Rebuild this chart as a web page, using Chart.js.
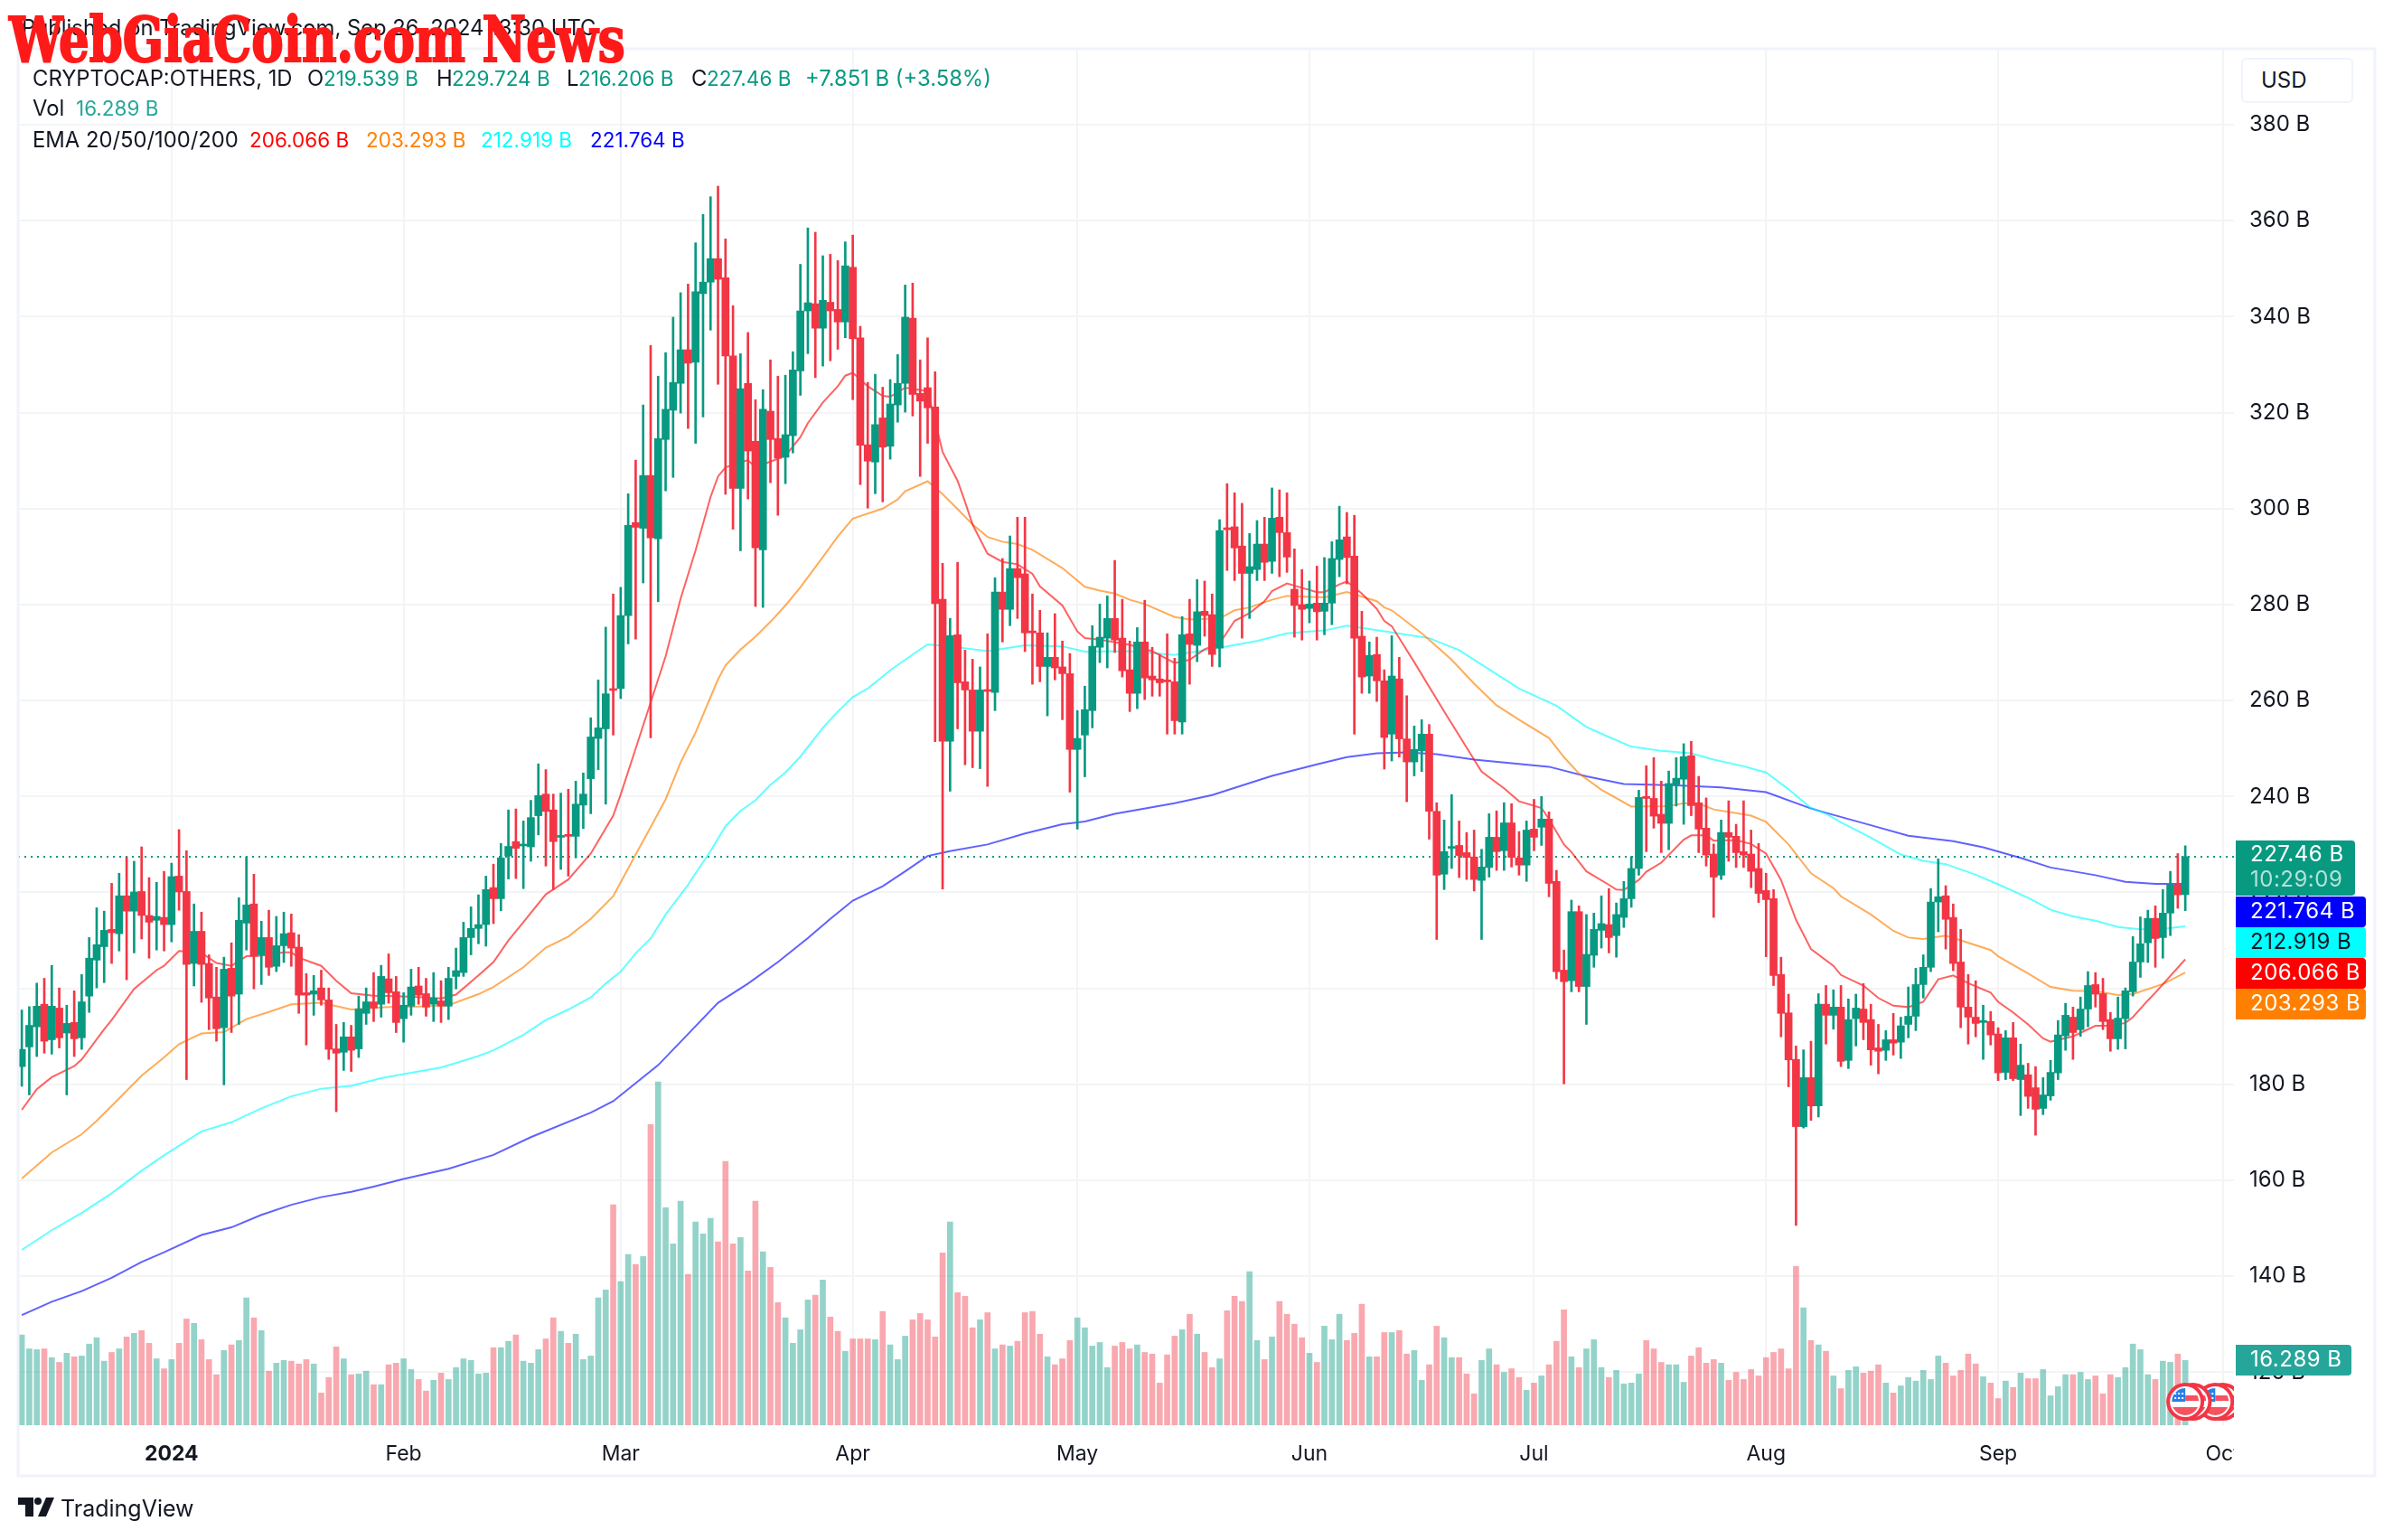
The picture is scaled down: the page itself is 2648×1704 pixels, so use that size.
<!DOCTYPE html>
<html lang="en">
<head>
  <meta charset="UTF-8">
  <title>CRYPTOCAP:OTHERS, 1D</title>
  <script src="https://cdn.jsdelivr.net/npm/chart.js"></script>
  <style>
    html, body { margin: 0; padding: 0; background: #fff; }
    body { width: 2648px; height: 1704px; position: relative; overflow: hidden; font-family: Inter, Roboto, sans-serif; }
    canvas { position: absolute; left: 0; top: 0; }
    .hd { position: absolute; font-size: 22.5px; line-height: 28px; white-space: nowrap; color: #131722; }
    .hd.big { font-size: 23.8px; }
    #mark {
      position: absolute; left: 10px; top: 2px; white-space: nowrap; color: #ff1a1a;
      font: bold 70px/84px "DejaVu Serif", serif; font-stretch: condensed;
      transform-origin: left top; -webkit-text-stroke: 2px #ff1a1a;
    }
    #usd {
      position: absolute; left: 2480px; top: 64px; width: 100px; height: 46px; line-height: 46px;
      padding-left: 20px; font-size: 24px; color: #131722; background: #fff;
      border: 2px solid #f0f3fa; border-radius: 6px;
    }
    #tvlogo { position: absolute; left: 20px; top: 1657px; }
    #tvname { position: absolute; left: 67px; top: 1652px; font-size: 25px; line-height: 34px; color: #131722; }
  </style>
</head>
<body>
  <canvas id="chart" width="2648" height="1704"></canvas>
  <div id="usd">USD</div>
  <svg id="tvlogo" width="40" height="21" viewBox="0 0 40 21"><path fill="#131722" d="M0 0h17v21H8V8H0z"/><circle fill="#131722" cx="22" cy="4" r="4"/><path fill="#131722" d="M31 0h9l-9 21h-9z"/></svg>
  <div id="tvname">TradingView</div>

  <script>
    // --- daily candles, in billions, first day is 2023-12-12 ---
    const opens = [
      183.7,187.8,192.0,196.7,189.3,195.9,190.7,192.9,189.7,198.4,
      205.9,208.7,212.3,211.4,219.3,216.1,220.2,215.2,214.2,214.8,
      213.3,223.4,220.2,205.2,211.9,205.2,198.2,191.8,204.2,198.8,
      213.6,217.6,207.0,210.6,204.6,208.9,211.6,208.6,199.1,198.8,
      200.1,197.6,187.4,186.7,189.9,187.4,194.8,197.2,196.7,202.0,
      199.3,193.7,196.3,200.5,198.9,196.7,197.4,196.3,202.5,203.3,
      210.6,212.5,213.3,221.0,218.7,227.6,230.6,229.7,229.5,236.0,
      240.5,237.2,231.5,232.1,231.7,238.2,243.7,252.1,254.1,262.4,
      262.5,277.7,297.1,295.9,306.9,293.7,314.4,320.5,326.1,333.1,
      330.5,344.8,347.2,352.1,348.1,331.8,304.2,326.1,314.0,291.4,
      320.3,314.6,310.7,315.2,328.7,341.2,342.7,337.6,343.0,341.5,
      338.9,350.3,335.6,313.3,309.7,318.9,313.0,321.6,326.1,339.7,
      324.0,325.2,321.2,281.1,251.5,273.7,263.9,262.2,253.6,262.2,
      261.7,282.6,279.0,287.5,286.4,274.5,274.1,267.1,269.0,267.0,
      265.6,249.8,252.8,257.9,271.1,273.0,277.1,273.0,266.4,261.5,
      272.2,265.1,264.5,264.3,263.9,255.5,273.9,271.5,278.6,277.9,
      270.9,296.0,296.2,292.2,286.5,287.3,292.6,289.0,298.2,295.0,
      283.2,280.0,279.2,280.3,278.6,280.3,289.4,294.1,290.1,273.4,
      265.1,269.6,264.1,253.0,264.5,252.0,247.2,249.5,253.0,236.9,
      223.8,229.2,229.8,228.3,227.4,222.5,225.2,231.5,228.7,234.5,
      227.2,225.7,233.2,233.6,235.3,222.3,203.8,201.6,216.0,200.4,
      206.9,212.1,213.3,211.0,214.8,218.7,225.0,240.0,239.6,236.3,
      234.4,242.5,243.6,248.5,238.7,233.4,228.0,223.6,232.5,231.7,
      228.5,228.0,225.0,220.4,218.7,202.9,194.9,185.2,171.2,181.4,
      175.5,196.7,194.4,196.1,185.0,193.7,195.7,193.5,187.6,187.1,
      189.3,188.8,192.5,194.2,200.8,204.4,218.0,219.3,214.8,205.5,
      196.1,194.0,192.9,193.1,190.5,182.5,189.7,181.0,182.0,179.3,
      175.0,177.6,182.4,190.1,194.0,191.4,195.7,200.8,198.9,193.5,
      189.5,193.7,199.3,205.5,209.5,214.6,210.6,215.7,221.6,219.539
    ];
    const closes = [
      187.3,192.3,196.3,189.0,196.3,189.7,192.7,189.5,197.2,206.3,
      209.1,212.1,211.6,219.3,216.1,220.1,215.2,213.8,215.0,213.3,
      223.3,220.1,205.0,211.9,205.0,198.0,191.6,204.0,198.4,214.2,
      217.4,206.7,210.6,204.4,208.9,211.4,208.4,198.6,198.6,199.5,
      197.6,187.3,186.5,189.9,187.1,195.7,197.2,195.9,202.5,199.1,
      192.9,196.5,200.3,198.6,196.1,198.0,196.3,202.1,203.7,210.6,
      212.5,213.3,220.6,218.7,227.2,229.6,229.2,229.9,235.6,240.2,
      236.9,230.6,231.8,231.7,238.4,240.5,252.4,254.3,261.4,262.1,
      277.7,296.5,296.1,306.9,293.9,314.6,320.7,326.3,333.1,330.3,
      345.2,347.2,352.1,347.8,331.8,304.2,325.0,312.0,291.8,320.7,
      314.4,310.5,315.4,328.9,341.2,342.9,337.6,343.4,341.2,338.9,
      350.6,335.4,313.2,309.9,317.5,312.8,321.8,326.1,339.9,323.8,
      322.4,321.0,280.2,251.5,273.5,263.7,262.2,253.6,262.2,261.9,
      282.6,279.0,287.5,285.6,274.1,274.1,267.1,269.0,266.8,265.6,
      249.8,252.1,258.1,271.3,273.2,277.1,272.6,266.2,261.5,272.2,
      264.7,264.3,263.7,263.9,255.8,273.7,271.7,278.5,277.7,269.6,
      295.4,295.6,291.8,286.5,287.9,292.6,288.8,298.0,295.0,289.9,
      279.8,279.0,280.1,278.5,280.3,289.6,293.5,289.8,273.0,264.9,
      269.4,264.1,252.3,265.1,252.0,247.2,249.8,253.0,236.9,223.6,
      228.5,229.4,227.7,227.3,222.7,225.3,231.5,228.5,234.5,227.3,
      225.7,233.0,231.5,235.3,221.9,203.5,201.4,216.0,200.4,207.1,
      212.3,213.5,210.6,215.4,218.7,225.0,239.8,239.6,235.9,234.4,
      242.7,243.8,248.3,238.1,233.2,227.8,223.2,232.5,231.5,228.3,
      227.8,224.4,219.8,218.5,202.7,194.8,185.1,171.2,181.4,175.5,
      196.7,194.4,196.1,184.8,193.5,195.9,192.9,187.2,186.9,189.3,
      188.6,192.2,194.2,200.8,204.4,218.0,219.1,214.4,205.2,196.1,
      194.0,192.7,193.3,190.3,182.4,189.7,181.2,184.0,177.5,174.8,
      177.8,182.5,190.3,194.4,190.8,195.7,200.6,198.8,193.1,189.5,
      193.8,199.5,205.5,209.3,214.6,210.4,215.7,221.6,219.5,227.46
    ];
    const highs = [
      195.5,196.2,201.1,202.1,204.8,200.1,196.5,199.5,202.9,210.6,
      216.8,216.1,221.9,224.0,227.4,226.5,229.5,223.1,222.1,224.4,
      226.1,233.1,228.7,217.6,215.9,207.0,204.4,206.5,209.5,218.9,
      227.4,223.8,214.0,216.3,215.0,215.9,215.5,211.2,203.1,202.7,
      203.8,200.1,192.5,192.9,192.3,198.4,200.1,203.3,204.8,207.2,
      202.5,199.1,204.0,204.4,202.1,203.3,201.6,204.4,208.4,213.8,
      217.0,219.5,223.4,225.9,230.2,237.2,237.4,234.9,239.2,246.8,
      245.6,240.5,240.7,241.5,243.2,244.9,256.4,264.3,275.3,282.2,
      283.6,303.1,310.1,321.6,334.0,327.6,332.5,339.9,345.0,346.8,
      355.4,361.3,365.0,367.2,356.2,342.3,332.3,336.7,322.7,324.8,
      331.0,327.6,327.8,332.7,350.9,358.5,357.6,352.7,353.0,351.7,
      355.6,357.0,338.0,326.3,328.0,325.3,326.9,332.1,346.6,347.0,
      331.0,335.6,328.5,288.6,277.1,288.8,270.5,268.6,267.0,273.9,
      285.6,289.6,294.3,298.2,298.2,282.2,278.8,274.1,278.1,272.4,
      269.8,257.9,263.0,275.6,280.1,281.8,289.2,281.1,272.4,275.2,
      280.9,271.1,269.6,273.9,268.8,277.5,281.1,285.2,284.9,282.2,
      297.7,305.2,303.3,301.1,294.8,297.5,298.2,304.3,303.9,303.3,
      291.6,287.3,284.9,288.0,289.8,293.1,300.5,299.2,298.6,278.6,
      272.2,273.2,266.4,273.5,269.0,261.0,254.7,256.0,255.0,238.7,
      235.1,240.4,234.9,232.5,233.0,229.0,236.4,237.0,238.7,238.5,
      232.7,234.9,239.4,240.0,236.8,224.6,208.0,218.4,217.2,215.4,
      215.7,219.3,220.8,217.8,222.3,227.5,241.3,246.4,248.1,243.2,
      245.3,248.1,251.0,251.5,244.2,239.7,230.1,235.1,239.1,234.2,
      239.1,233.0,230.2,224.0,220.6,206.5,198.8,188.0,187.2,189.0,
      198.9,200.6,199.7,200.6,197.8,198.8,201.0,196.7,192.5,191.2,
      194.8,194.0,200.3,204.2,207.0,220.8,227.0,221.4,217.6,212.3,
      202.9,201.6,196.5,195.2,191.8,191.2,192.9,188.4,184.4,183.7,
      181.4,185.0,193.3,196.9,196.1,198.2,203.5,203.3,202.1,195.0,
      198.2,200.1,210.8,214.9,216.3,217.2,220.6,224.4,228.1,229.724
    ];
    const lows = [
      179.6,177.8,185.8,186.5,186.3,187.6,177.8,185.8,187.3,195.0,
      200.1,201.2,205.2,207.8,201.8,207.4,210.3,206.3,208.0,207.8,
      209.7,216.3,181.0,200.5,197.1,191.4,189.0,179.9,190.8,192.5,
      208.0,199.9,200.8,202.7,203.5,205.4,204.6,194.8,188.2,194.4,
      196.5,185.2,174.3,182.9,182.7,185.6,192.5,193.1,194.0,196.9,
      190.8,188.8,194.4,196.7,194.2,193.1,192.9,193.5,199.9,202.5,
      207.0,209.3,208.8,213.5,216.2,222.8,222.9,220.8,226.5,232.0,
      225.5,220.6,224.8,223.4,227.2,233.3,236.4,245.6,238.4,252.8,
      260.4,271.8,272.8,284.5,252.2,280.6,303.7,306.5,319.9,316.7,
      313.6,319.1,337.2,325.9,303.0,295.7,291.2,302.0,279.6,279.4,
      305.4,298.6,305.2,311.6,323.6,332.3,327.3,329.7,330.8,333.2,
      335.6,322.7,305.0,300.1,303.1,301.4,310.3,318.0,320.1,319.3,
      306.7,313.6,251.4,220.7,241.1,254.1,246.6,246.0,245.8,242.1,
      257.9,272.2,275.6,277.1,270.2,263.4,263.9,256.8,264.3,256.0,
      240.9,233.2,244.1,254.3,267.9,266.8,270.0,264.9,257.7,258.3,
      260.2,260.9,260.9,253.0,253.0,253.0,263.4,268.1,273.4,267.1,
      267.0,287.1,285.0,273.0,277.1,285.0,285.0,286.5,285.8,286.7,
      273.2,272.6,276.2,272.6,273.7,275.8,285.8,284.3,253.0,261.5,
      261.5,259.8,245.7,247.4,248.2,238.9,244.3,245.2,231.1,210.2,
      220.6,225.0,223.1,222.7,220.3,210.2,223.2,224.6,224.6,225.3,
      223.6,222.3,228.7,229.8,219.1,202.0,180.1,199.3,199.3,192.5,
      204.4,208.4,207.4,206.5,212.7,216.9,223.6,228.5,233.4,228.3,
      228.9,238.0,234.2,236.0,228.3,225.5,214.8,222.7,226.5,225.2,
      225.2,221.0,217.9,206.6,200.6,189.9,179.5,150.6,170.9,172.5,
      173.2,188.4,191.5,183.7,183.3,188.0,189.3,184.0,182.2,185.0,
      186.1,185.4,189.7,191.2,198.0,203.5,211.8,208.2,203.7,191.8,
      188.4,189.9,185.2,188.2,180.8,181.0,180.8,173.5,175.0,169.4,
      173.7,176.7,181.0,187.1,185.2,190.0,192.0,196.1,191.4,186.9,
      187.3,187.4,198.4,202.3,205.4,204.4,206.3,211.0,216.7,216.206
    ];
    const volumes = [
      22.7,19.2,19.0,19.2,17.0,15.8,18.1,17.2,17.4,20.4,
      22.0,16.1,18.3,19.2,22.2,23.1,23.8,20.6,16.7,14.2,
      16.5,20.6,26.7,25.6,21.5,16.5,12.7,18.8,20.2,21.3,
      32.0,27.0,23.8,13.6,15.6,16.3,16.1,15.4,16.5,15.4,
      8.1,12.0,19.7,16.7,12.7,12.9,13.6,10.2,10.2,15.2,
      15.6,16.7,14.0,11.5,8.6,11.3,13.1,11.5,14.5,16.7,
      16.3,12.9,13.1,19.5,19.5,21.1,22.7,16.1,15.6,19.0,
      21.7,27.0,23.6,20.6,22.9,16.5,17.4,32.0,34.0,55.4,
      36.1,42.9,40.4,42.4,75.6,86.3,54.7,45.6,56.3,37.9,
      51.1,48.1,52.0,46.1,66.3,45.6,47.2,38.8,56.3,43.6,
      39.7,30.8,27.0,20.6,24.0,31.5,32.7,36.5,27.2,23.6,
      18.6,21.7,21.7,21.7,21.5,28.6,20.2,16.5,22.4,26.5,
      28.1,26.5,22.2,43.3,51.1,33.3,32.4,24.5,26.5,28.3,
      19.2,20.2,19.9,21.1,28.3,28.6,22.9,17.2,15.2,16.7,
      21.3,27.0,24.5,19.9,20.8,14.5,19.9,20.8,19.2,20.2,
      18.3,17.9,10.6,17.7,22.4,24.0,27.9,22.9,18.3,14.5,
      16.7,28.8,32.4,31.1,38.6,21.3,16.5,22.2,31.1,27.9,
      25.4,22.0,18.1,15.8,24.9,21.5,27.9,21.3,23.1,30.4,
      17.2,17.2,23.3,23.3,23.8,17.9,18.8,11.3,15.2,24.9,
      22.0,17.0,17.0,12.9,7.9,16.3,19.2,15.2,13.3,14.2,
      12.0,8.8,10.6,12.4,15.2,21.1,29.0,17.2,14.5,19.2,
      21.5,14.5,12.0,13.8,10.4,10.6,12.9,21.3,19.2,15.8,
      15.2,15.2,10.8,17.4,19.5,15.6,16.5,15.6,11.3,13.3,
      11.5,14.0,12.4,17.0,18.3,19.2,14.2,39.9,29.5,21.3,
      20.2,18.6,12.4,9.2,13.8,14.7,13.1,13.6,15.2,10.6,
      8.1,9.9,12.0,11.1,13.8,11.5,17.4,15.6,12.4,13.8,
      17.9,15.4,12.2,10.6,6.7,11.1,9.5,13.1,11.7,11.7,
      14.0,7.4,9.7,12.7,12.7,13.3,11.5,12.4,7.9,12.7,
      12.0,14.5,20.4,19.0,12.7,11.5,16.1,15.8,17.9,16.289
    ];

    // --- EMA lines at the listed day numbers ---
    const ema20Days = [0,2,4,7,8,11,12,15,18,19,21,22,24,26,28,30,32,35,36,37,40,42,44,47,50,53,56,58,61,63,65,67,70,73,76,79,80,82,84,86,88,90,92,93,94,97,98,100,102,104,105,107,109,110,111,113,115,116,118,121,123,125,126,127,129,131,133,135,136,139,141,142,144,148,151,154,156,158,160,162,164,166,167,169,171,173,174,176,177,179,181,182,183,186,190,194,195,198,200,203,204,206,207,209,212,213,214,216,217,219,222,223,225,226,229,231,233,235,237,239,242,243,246,248,250,252,254,256,258,260,263,264,266,268,270,271,274,277,279,281,282,284,285,289];
    const ema20Vals = [174.7,179,181.5,183.8,185.2,191.5,193.4,199.9,203.8,204.7,207.8,207.7,207.4,205.3,204.7,206.7,206.8,207.5,207.5,206.4,204.7,201.6,199,198.5,198.4,198.2,197.9,198.7,202.7,205.5,210,213.8,219.6,222.7,228.1,236,240.4,250,259.6,269.2,281.2,291.3,302.4,306.7,308.6,310.1,308.6,309.8,311,314.9,317.8,322.1,325.5,327.7,328.3,325.5,323.5,323.3,325.2,324.5,311.8,305.8,301.4,296.7,290.6,288.9,288.4,286.4,283.8,279.8,274.4,273,272.7,271.6,270.3,267.8,268.5,270.7,271.9,276.6,278.2,280.7,282.8,284.4,283.5,282.6,282.6,284.2,284.8,282.3,279.1,276.6,275.5,268,257.7,247.7,245.2,241.7,239,237.6,235.3,230,228.4,224.4,221.6,220.6,220.5,222.6,224.3,226.2,231,231.9,231.9,230.8,230.9,230.1,228.1,222.6,214.3,208.2,204.7,202.8,200.6,198,196.4,196.1,197.2,201.9,202.7,201.1,199.1,197.2,195,192.5,189.6,188.9,190,192.2,192.2,192.8,194,197.5,199.1,206.066];
    const ema50Days = [0,4,8,10,12,16,19,21,24,27,30,33,36,40,44,49,53,57,61,63,67,70,73,76,79,82,84,86,88,90,93,94,96,98,100,102,104,107,109,111,115,117,118,121,123,125,127,129,131,133,135,139,142,144,146,148,150,154,156,160,162,164,167,169,174,177,181,182,183,187,191,194,197,200,204,206,208,211,215,220,222,224,226,231,233,236,239,242,243,247,250,252,254,257,259,263,264,268,271,274,277,280,282,286,289];
    const ema50Vals = [160.4,165.8,169.6,172.4,175.5,181.8,185.6,188.4,190.6,190.9,193.6,195.1,196.7,197,195.6,196.1,196.2,196.5,198.8,200.3,204.4,208.5,210.8,214.5,219.2,227.9,233.6,239.4,247.1,253.3,264.4,267.3,270.6,273.3,276.4,279.8,283.6,289.9,294.2,297.9,300,301.9,303.6,305.7,303,299.9,296.7,294.1,293.1,292.6,291.4,287.6,283.7,282.9,282.3,281,280.1,277.4,276.9,277.1,278.8,279.4,281,281.8,281.5,282.6,280.7,279.4,278.8,274,268.5,263.5,259,256,252.2,248.2,244.8,241.4,237.9,238,238.6,238.5,237.3,236,234.7,230,224,220.9,219.2,215.4,212,210.6,210.3,211,210,208,206.7,203.1,200.3,199.5,199.4,198.6,198.8,200.9,203.293];
    const ema100Days = [0,4,8,12,16,19,24,28,32,36,40,44,48,53,56,61,63,67,70,73,76,78,80,82,84,86,89,90,92,94,96,98,100,102,104,107,109,111,113,116,118,121,124,129,134,139,142,148,154,160,165,169,174,177,180,183,188,192,196,200,205,209,212,215,219,223,226,230,233,236,239,241,243,247,251,254,257,261,264,268,271,274,277,280,283,286,289];
    const ema100Vals = [145.5,149.6,153.2,157.3,162,165.2,170.2,172.1,175,177.5,179.1,179.7,181.3,182.7,183.5,185.9,187.1,190.3,193.4,195.6,198.1,201,203.5,207.3,210.4,215.4,221.6,224,228.6,233.8,237,239.2,242.4,245,248.3,254.3,257.7,260.7,262.5,266.3,268.5,271.7,271.3,270.3,271.5,271.3,270.2,270.3,269.5,271,272.4,274,274.6,275.6,274.9,274.2,273,270.5,266.5,262.5,258.9,254.5,252.4,250.4,249.5,249,247.7,246.3,245,241.5,237.6,236.4,234.6,231.4,227.9,226.6,225.9,223.7,221.7,218.9,216.4,215,214.1,212.8,212.3,212.4,212.919];
    const ema200Days = [0,4,8,12,16,19,24,28,32,36,40,44,47,51,57,63,68,76,79,85,89,93,97,101,105,108,111,115,118,121,124,129,134,139,142,146,154,159,167,173,177,181,185,189,194,204,209,214,221,227,233,239,241,247,252,258,262,267,271,277,281,285,289];
    const ema200Vals = [131.9,134.7,136.9,139.7,143,145,148.6,150.2,152.8,154.9,156.5,157.6,158.7,160.3,162.4,165.3,169,174.1,176.5,184,190.5,197,201,205.5,210.5,214.5,218.3,221.3,224.4,227.6,228.6,230,232.3,234.2,234.8,236.4,238.6,240.3,244.3,246.7,248.2,249,249.2,248.8,247.7,246.2,244.2,242.6,242.3,241.9,240.9,237.5,236.6,234,231.8,230.7,229.4,227.2,225.2,223.6,222.2,221.8,221.764];

    const monthDays = [20,51,80,111,141,172,202,233,264,294];
    const monthLabels = ['2024','Feb','Mar','Apr','May','Jun','Jul','Aug','Sep','Oct'];
    const priceTicks = [120,140,160,180,200,220,240,260,280,300,320,340,360,380];
    const lastClose = 227.46;
    const lastVolume = 16.289;
    const emaLast = [206.066, 203.293, 212.919, 221.764];
    const eventDays = [294, 293, 290, 289];   // back to front

    const UP = '#089981', DOWN = '#F23645';
    const days = Array.from({length: 296}, (_, i) => i);   // some empty days on the right

    function sparse(dayList, vals) {
      const out = days.map(() => null);
      dayList.forEach((d, i) => { out[d] = vals[i]; });
      return out;
    }
    function hexA(hex, a) {
      const n = parseInt(hex.slice(1), 16);
      return `rgba(${n >> 16},${(n >> 8) & 255},${n & 255},${a})`;
    }
    const candleColors = closes.map((c, i) => c >= opens[i] ? UP : DOWN);
    const FONT = '24px Inter, Roboto, sans-serif';

    function emaDataset(label, dayList, vals, color) {
      return { type: 'line', label, data: sparse(dayList, vals), yAxisID: 'y', order: 3,
        borderColor: color, borderWidth: 2, pointRadius: 0, spanGaps: true, tension: 0 };
    }

    // --- everything on top of the plot: price tags, dotted last price, event flags, frame ---
    function tag(ctx, x, y, w, h, color, lines) {
      ctx.fillStyle = color;
      ctx.beginPath();
      ctx.roundRect(x, y, w, h, [0, 4, 4, 0]);
      ctx.fill();
      ctx.textAlign = 'left';
      ctx.textBaseline = 'middle';
      ctx.font = FONT;
      ctx.letterSpacing = '0.5px';
      lines.forEach(l => {
        ctx.fillStyle = l.color;
        ctx.fillText(l.text, x + 16, l.y);
      });
    }
    function flag(ctx, cx, cy) {
      ctx.save();
      ctx.beginPath(); ctx.arc(cx, cy, 21, 0, 7); ctx.fillStyle = '#F23645'; ctx.fill();
      ctx.beginPath(); ctx.arc(cx, cy, 17, 0, 7); ctx.fillStyle = '#fff'; ctx.fill();
      ctx.beginPath(); ctx.arc(cx, cy, 15, 0, 7); ctx.clip();
      ctx.fillStyle = '#F7525F';
      ctx.fillRect(cx, cy - 7, 15, 6);
      ctx.fillRect(cx - 15, cy + 6, 30, 10);
      ctx.fillStyle = '#2a7fe8';
      ctx.fillRect(cx - 15, cy - 15, 15, 15);
      ctx.fillStyle = '#fff';
      for (let i = 0; i < 3; i++) for (let j = 0; j < 2; j++) ctx.fillRect(cx - 12 + i * 4, cy - 10 + j * 5, 2, 2);
      ctx.restore();
    }
    const overlay = {
      id: 'overlay',
      beforeDatasetsDraw(chart) {
        const { ctx, chartArea: a, scales: { y } } = chart;
        ctx.save();
        ctx.strokeStyle = UP;
        ctx.lineWidth = 2;
        ctx.setLineDash([2, 5]);
        ctx.beginPath();
        ctx.moveTo(a.left, Math.round(y.getPixelForValue(lastClose)));
        ctx.lineTo(a.right, Math.round(y.getPixelForValue(lastClose)));
        ctx.stroke();
        ctx.restore();
      },
      afterDatasetsDraw(chart) {
        const { ctx, chartArea: a, scales: { x } } = chart;
        ctx.save();
        ctx.beginPath(); ctx.rect(a.left, a.top, a.right - a.left, a.bottom - a.top); ctx.clip();
        eventDays.forEach(d => flag(ctx, x.getPixelForValue(d), a.bottom - 26));
        ctx.restore();
      },
      afterDraw(chart) {
        const { ctx } = chart;
        ctx.save();
        // the time axis stops at the price axis, the Oct label gets cut there
        ctx.fillStyle = '#fff';
        ctx.fillRect(2472, 1578, 150, 52);
        ctx.strokeStyle = '#f0f3fa';
        ctx.lineWidth = 3;
        ctx.strokeRect(20, 54, 2608, 1579);
        const w = 'rgba(255,255,255,1)';
        tag(ctx, 2474, 930, 132, 61, UP, [
          { text: lastClose.toFixed(2) + ' B', color: w, y: 946 },
          { text: '10:29:09', color: 'rgba(255,255,255,.7)', y: 974 }
        ]);
        tag(ctx, 2474, 992, 144, 34, '#0000ff', [{ text: emaLast[3].toFixed(3) + ' B', color: w, y: 1009 }]);
        tag(ctx, 2474, 1026, 144, 34, '#00ffff', [{ text: emaLast[2].toFixed(3) + ' B', color: '#131722', y: 1043 }]);
        tag(ctx, 2474, 1060, 144, 34, '#ff0000', [{ text: emaLast[0].toFixed(3) + ' B', color: w, y: 1077 }]);
        tag(ctx, 2474, 1094, 144, 34, '#ff8000', [{ text: emaLast[1].toFixed(3) + ' B', color: w, y: 1111 }]);
        tag(ctx, 2474, 1488, 128, 34, '#26a69a', [{ text: lastVolume.toFixed(3) + ' B', color: w, y: 1505 }]);
        ctx.restore();
      }
    };

    new Chart(document.getElementById('chart'), {
      data: {
        labels: days,
        datasets: [
          { type: 'bar', label: 'Vol', data: volumes, yAxisID: 'y2', order: 4, grouped: false, barThickness: 6,
            backgroundColor: candleColors.map(c => hexA(c, 0.43)) },
          emaDataset('EMA 20', ema20Days, ema20Vals, 'rgba(255,0,0,.62)'),
          emaDataset('EMA 50', ema50Days, ema50Vals, 'rgba(255,128,0,.65)'),
          emaDataset('EMA 100', ema100Days, ema100Vals, 'rgba(0,255,255,.62)'),
          emaDataset('EMA 200', ema200Days, ema200Vals, 'rgba(0,0,255,.62)'),
          { type: 'bar', label: 'Wick', data: lows.map((l, i) => [l, highs[i]]), yAxisID: 'y', order: 2, grouped: false,
            barThickness: 2, backgroundColor: candleColors },
          { type: 'bar', label: 'Body', data: opens.map((o, i) => [o, closes[i]]), yAxisID: 'y', order: 1, grouped: false,
            barThickness: 8, minBarLength: 2, backgroundColor: candleColors }
        ]
      },
      options: {
        responsive: false,
        animation: false,
        layout: { padding: { left: 20, top: 55, right: 0, bottom: 0 } },
        plugins: { legend: { display: false }, tooltip: { enabled: false } },
        scales: {
          x: {
            offset: true,
            grid: { offset: false, color: '#f3f4f6', lineWidth: 2, drawTicks: false },
            border: { display: false },
            afterBuildTicks: s => { s.ticks = monthDays.map(d => ({ value: d })); },
            afterFit: s => { s.height = 1704 - 1577; },
            ticks: {
              autoSkip: false, maxRotation: 0, padding: 18, color: '#131722',
              font: c => ({ family: 'Inter, Roboto, sans-serif', size: 23, weight: c.index === 0 ? 'bold' : 'normal' }),
              callback: v => monthLabels[monthDays.indexOf(v)]
            }
          },
          y: {
            position: 'right',
            min: 108.96,
            max: 395.64,
            grid: { color: '#f3f4f6', lineWidth: 2, drawTicks: false },
            border: { display: false },
            afterBuildTicks: s => { s.ticks = priceTicks.map(v => ({ value: v })); },
            afterFit: s => { s.width = 2648 - 2472; },
            ticks: { padding: 17, color: '#131722', font: { family: 'Inter, Roboto, sans-serif', size: 24 }, callback: v => v + ' B' }
          },
          y2: { display: false, min: 0, max: 345.8 }
        }
      },
      plugins: [overlay]
    });

    // --- header texts: text, left, top, colour, larger font for the dark labels ---
    const headerTexts = [
      ['Published on TradingView.com, Sep 26, 2024 13:30 UTC', 24, 17, '#131722', true],
      ['CRYPTOCAP:OTHERS, 1D', 36, 73, '#131722', true],
      ['O', 340, 73, '#131722', true], ['219.539 B', 358, 73, UP],
      ['H', 483, 73, '#131722', true], ['229.724 B', 500, 73, UP],
      ['L', 627, 73, '#131722', true], ['216.206 B', 640, 73, UP],
      ['C', 765, 73, '#131722', true], ['227.46 B', 782, 73, UP],
      ['+7.851 B (+3.58%)', 891, 73, UP, true],
      ['Vol', 36, 106, '#131722', true], ['16.289 B', 84, 106, '#26a69a'],
      ['EMA 20/50/100/200', 36, 141, '#131722', true],
      ['206.066 B', 276, 141, '#ff0000'], ['203.293 B', 405, 141, '#ff8000'],
      ['212.919 B', 532, 141, '#00ffff'], ['221.764 B', 653, 141, '#0000ff']
    ];
    headerTexts.forEach(([text, left, top, color, big]) => {
      const d = document.createElement('div');
      d.className = big ? 'hd big' : 'hd';
      d.textContent = text;
      d.style.left = left + 'px';
      d.style.top = top + 'px';
      d.style.color = color;
      document.body.appendChild(d);
    });

    // watermark goes over the published line
    const mark = document.createElement('div');
    mark.id = 'mark';
    mark.textContent = 'WebGiaCoin.com News';
    document.body.appendChild(mark);
    mark.style.transform = `scaleX(${682 / mark.offsetWidth})`;
  </script>
</body>
</html>
